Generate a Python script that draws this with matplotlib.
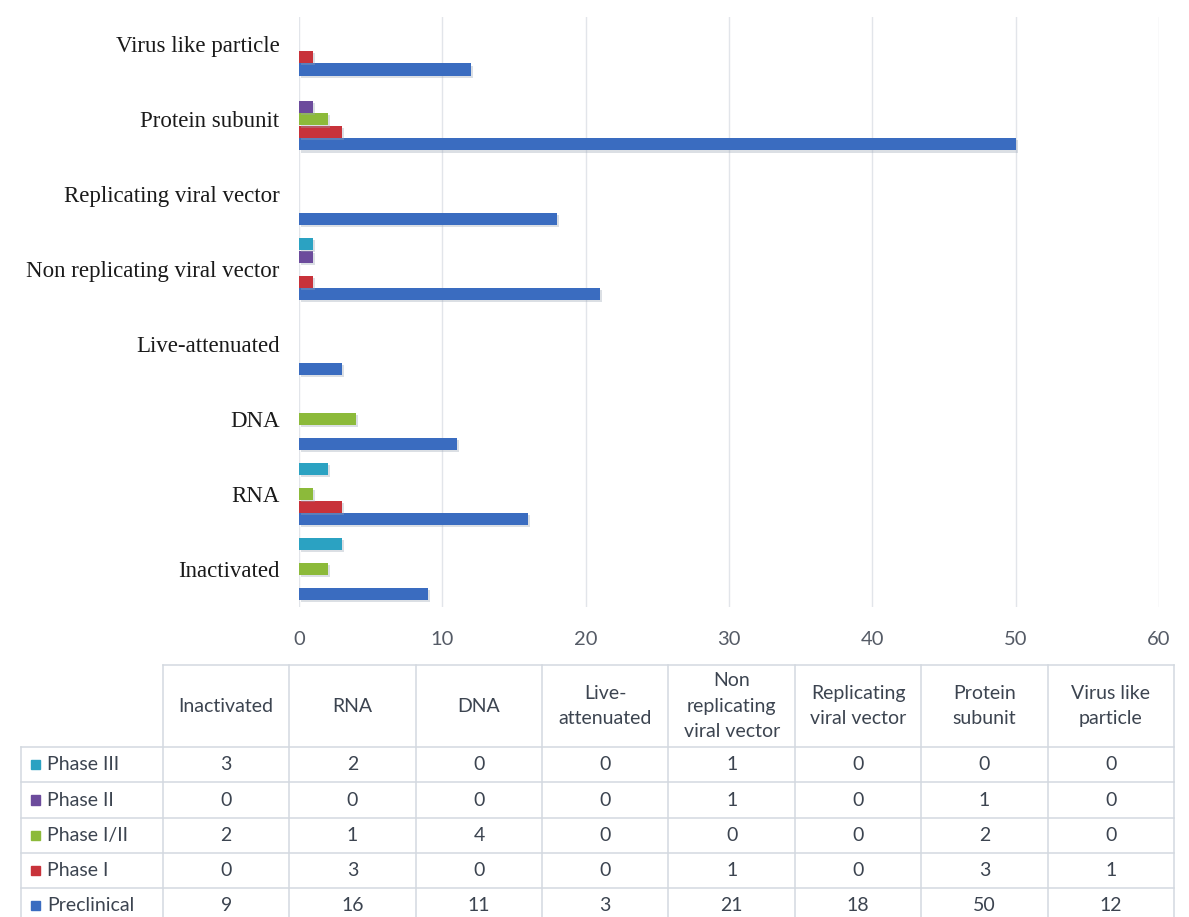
import matplotlib
matplotlib.use("Agg")
import matplotlib.pyplot as plt
from matplotlib.patches import Rectangle
import matplotlib.patheffects as pe
import numpy as np

# ---------------- data ----------------
categories = ["Inactivated", "RNA", "DNA", "Live-attenuated",
              "Non replicating viral vector", "Replicating viral vector",
              "Protein subunit", "Virus like particle"]
table_headers = ["Inactivated", "RNA", "DNA", "Live-\nattenuated",
                 "Non\nreplicating\nviral vector", "Replicating\nviral vector",
                 "Protein\nsubunit", "Virus like\nparticle"]
series_names = ["Preclinical", "Phase I", "Phase I/II", "Phase II", "Phase III"]
preclinical = [9, 16, 11, 3, 21, 18, 50, 12]
phase_1 = [0, 3, 0, 0, 1, 0, 3, 1]
phase_1_2 = [2, 1, 4, 0, 0, 0, 2, 0]
phase_2 = [0, 0, 0, 0, 1, 0, 1, 0]
phase_3 = [3, 2, 0, 0, 1, 0, 0, 0]
x_ticks = [0, 10, 20, 30, 40, 50, 60]

series_values = [preclinical, phase_1, phase_1_2, phase_2, phase_3]
colors = ["#3a6cc0", "#c8323a", "#8cba3a", "#6c4b9c", "#2ba2c2"]

W, H = 1189, 917
fig = plt.figure(figsize=(W / 100, H / 100), dpi=100)

def fx(px):
    return px / W

def fy(py):
    return 1 - py / H

# ---------------- bar chart ----------------
ax_l, ax_r, ax_t, ax_b = 299, 1159, 17, 607
ax = fig.add_axes([fx(ax_l), fy(ax_b), fx(ax_r - ax_l), (ax_b - ax_t) / H])
n = len(series_names)
bh = 1 / 6
y = np.arange(len(categories))
for i, (vals, c) in enumerate(zip(series_values, colors)):
    offs = (i - (n - 1) / 2) * bh
    ax.barh(y + offs, vals, height=bh * 0.97, color=c, zorder=3,
            path_effects=[pe.SimplePatchShadow(offset=(1.5, -1.5), shadow_rgbFace="#9aa4b4", alpha=0.35),
                          pe.Normal()])

ax.set_xlim(0, 60)
ax.set_ylim(-0.507, 7.367)
ax.set_xticks(x_ticks)
ax.set_xticklabels([str(t) for t in x_ticks], fontfamily="Lato", fontsize=14.5, color="#555b66")
ax.tick_params(axis="x", length=0, pad=17)
ax.set_yticks(y)
ax.set_yticklabels(categories, fontfamily="Liberation Serif", fontsize=16.5, color="#1a1a1a")
ax.tick_params(axis="y", length=0, pad=14)
ax.grid(axis="x", color="#e2e5ea", linewidth=1, zorder=0)
for s in ax.spines.values():
    s.set_visible(False)

# ---------------- data table ----------------
t_left, t_right, t_top, t_bottom = 21, 1174, 665, 923
tax = fig.add_axes([fx(t_left), fy(t_bottom), fx(t_right - t_left), (t_bottom - t_top) / H])
col_w = 126.4
label_w = 163 - t_left
lab_units = label_w / col_w
row_h = 35
head_units = 82 / row_h
ncol = len(categories)
nrow = len(series_names)
tax.set_xlim(-lab_units, ncol)
tax.set_ylim(nrow, -head_units)
tax.axis("off")

line_kw = dict(color="#d3d9e0", linewidth=1.1, clip_on=False)
# horizontal lines
tax.plot([0, ncol], [-head_units, -head_units], **line_kw)
for r in range(nrow + 1):
    tax.plot([-lab_units, ncol], [r, r], **line_kw)
# vertical lines
for c in range(ncol + 1):
    tax.plot([c, c], [-head_units, nrow], **line_kw)
tax.plot([-lab_units, -lab_units], [0, nrow], **line_kw)

txt_color = "#3c4450"
fs = 14
for c, h in enumerate(table_headers):
    tax.text(c + 0.5, -head_units / 2, h, ha="center", va="center",
             fontfamily="Lato", fontsize=fs, color=txt_color, linespacing=1.6)

table_order = list(range(n))[::-1]  # Phase III at top ... Preclinical at bottom
for r, si in enumerate(table_order):
    sw = 9 / col_w
    tax.add_patch(Rectangle((-lab_units + 10 / col_w, r + 0.5 - 0.13), sw, 0.26,
                            color=colors[si], clip_on=False))
    tax.text(-lab_units + 26 / col_w, r + 0.5, series_names[si], ha="left", va="center",
             fontfamily="Lato", fontsize=fs, color=txt_color)
    for c, v in enumerate(series_values[si]):
        tax.text(c + 0.5, r + 0.5, str(v), ha="center", va="center",
                 fontfamily="Lato", fontsize=fs, color=txt_color)

fig.savefig("out.png", dpi=100, facecolor="white")
